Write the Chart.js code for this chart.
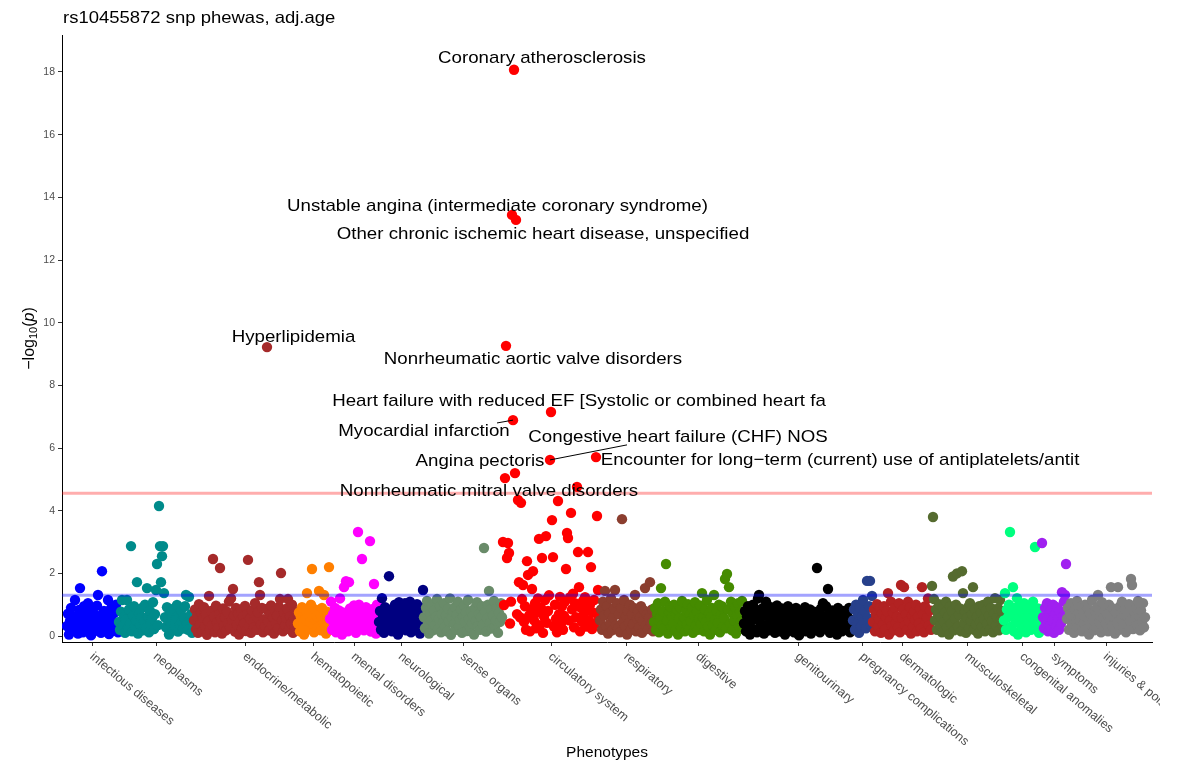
<!DOCTYPE html>
<html><head><meta charset="utf-8">
<script src="https://cdn.jsdelivr.net/npm/chart.js@4.4.0/dist/chart.umd.min.js"></script>
<style>html,body{margin:0;padding:0;background:#fff;}#wrap{width:1178px;height:765px;position:relative;}</style>
</head><body><div id="wrap"><canvas id="c"></canvas></div>
<script>
const chartTitle = "rs10455872 snp phewas, adj.age";
const xAxisTitle = "Phenotypes";
const categories = ["infectious diseases","neoplasms","endocrine/metabolic","hematopoietic","mental disorders","neurological","sense organs","circulatory system","respiratory","digestive","genitourinary","pregnancy complications","dermatologic","musculoskeletal","congenital anomalies","symptoms","injuries & poisonings"];
const categoryColors = ["#0000FF","#008B8B","#A52A2A","#FF7F00","#FF00FF","#000080","#698B69","#FF0000","#8B3E2F","#458B00","#000000","#27408B","#B22222","#556B2F","#00FF7F","#A020F0","#7F7F7F"];

// -log10(p) per phenotype, in phecode order within each category
const infectious = [0.32,0.71,0.05,0.48,0.9,0.18,0.62,0.4,1.15,0.27,
0.55,0.08,0.83,1.53,0.36,0.66,0.12,0.95,0.44,0.22,
0.75,1.05,0.3,0.58,0.02,0.86,0.47,0.15,0.69,0.38,
0.97,1.31,0.25,0.6,0.1,2.07,0.52,0.8,0.2,0.42,
0.67,1.15,0.06,0.35,0.88,0.5,0.17,0.73,0.28,1.0,
0.41,0.12];
const neoplasms = [0.45,0.2,0.78,1.15,0.33,0.6,0.1,0.52,1.15,0.27,
0.85,0.4,2.87,0.15,0.66,0.95,0.3,0.5,1.72,0.08,
0.72,0.38,0.58,0.9,0.18,0.46,1.0,0.25,1.53,0.63,
0.12,0.8,0.42,0.55,1.08,0.22,0.7,1.47,2.3,0.35,
4.15,2.87,1.72,2.55,2.87,1.37,0.6,0.28,0.92,0.5,
0.05,0.75,0.4,0.62,0.18,0.88,0.3,0.55,0.99,0.14,
0.68,0.36,0.82,0.48,0.24,0.6,0.95,1.31,0.4,0.2,
1.25,0.52,0.7,0.1,0.45];
const endocrine = [0.5,0.85,0.22,0.64,0.1,1.02,0.38,0.75,0.15,0.58,
0.92,0.3,0.68,0.04,0.47,1.28,0.2,0.8,0.35,2.46,
0.62,0.12,0.97,0.44,0.26,0.7,2.17,0.55,0.08,0.88,
0.33,0.6,0.18,0.78,0.42,1.1,0.27,1.2,0.52,1.5,
0.66,0.14,0.9,0.36,0.72,0.05,0.48,0.84,0.24,0.62,
0.4,0.96,0.16,0.7,2.43,0.32,0.56,0.1,0.82,0.45,
0.28,1.05,0.64,0.2,0.76,1.72,1.31,0.38,0.9,0.12,
0.54,0.3,0.86,9.22,0.46,0.18,0.7,0.98,0.35,0.6,
0.08,0.8,0.42,0.66,0.25,0.93,1.18,2.01,0.5,0.15,
0.74,0.34,0.58,0.88,1.18,0.22,0.62,0.4,1.0,0.1,
0.55,0.3,0.78,0.45];
const hematopoietic = [0.4,0.75,0.15,0.6,0.92,0.3,0.05,0.55,0.8,1.37,
0.22,0.68,0.45,1.0,2.14,0.35,0.12,0.85,0.5,0.62,
0.28,1.44,0.7,0.18,0.9,0.42,1.31,0.58,0.08,0.78,
0.36,2.2];
const mental = [0.55,1.1,0.2,0.7,0.38,0.9,0.12,0.62,0.3,0.82,
1.2,0.45,0.05,0.75,1.56,0.28,1.75,0.6,0.15,1.72,
0.88,0.4,0.66,0.22,0.98,0.5,0.1,0.72,3.32,1.0,
0.34,0.58,2.46,0.8,0.18,0.64,0.92,0.26,0.48,0.7,
3.03,0.14,0.86,0.4,1.66,0.6,0.08,1.0,0.32];
const neurological = [0.45,0.8,0.2,1.21,0.6,0.1,0.92,0.35,0.7,0.25,
1.91,0.5,0.85,0.15,0.62,0.4,1.0,0.3,0.75,0.05,
1.08,0.55,0.22,0.88,0.42,0.68,1.05,0.18,0.58,0.36,
0.8,1.1,0.12,0.5,0.95,0.28,0.72,0.4,1.02,0.2,
0.64,0.08,0.9,0.45,1.47];
const senseOrgans = [0.6,0.25,0.9,1.12,0.4,0.08,0.72,0.5,1.0,0.18,
0.82,0.35,0.62,1.18,0.22,0.55,0.95,0.12,0.7,0.42,
1.05,0.3,0.66,0.15,0.88,0.48,1.2,0.04,0.58,0.78,
0.38,0.92,0.2,0.68,1.1,0.3,0.52,0.85,0.1,0.62,
0.98,0.45,0.75,0.16,1.15,0.55,0.28,0.8,0.4,0.65,
0.05,0.9,0.5,1.08,0.32,0.7,0.2,0.6,0.95,0.36,
2.81,0.78,0.14,0.56,1.0,1.44,0.42,0.86,0.24,0.66,
1.12,0.3,0.5,0.9,0.1,0.74,0.45,1.05,0.6];
const circulatory = [3.0,0.99,5.04,9.26,2.49,2.97,2.65,0.4,1.1,13.44,
6.89,18.07,5.20,13.28,0.7,4.34,1.72,0.6,4.25,1.18,
1.63,0.45,0.95,0.2,2.39,1.95,0.65,0.15,0.85,1.50,
2.07,0.5,1.05,0.25,0.75,1.2,3.10,0.35,0.9,2.49,
0.1,0.62,1.15,3.19,0.42,0.8,1.3,5.62,7.15,3.70,
2.52,0.3,1.0,0.55,0.12,4.31,0.7,1.25,0.4,0.95,
0.2,0.65,1.1,2.14,3.29,3.13,0.5,1.24,3.93,0.85,
1.35,0.28,1.05,0.6,4.76,2.68,1.56,0.15,0.9,0.45,
1.12,0.7,1.24,0.3,0.82,2.68,0.5,1.0,2.2,0.22,
0.75,1.15,0.4,5.71,3.83,1.47,0.6];
const respiratory = [0.5,0.85,0.2,1.1,0.65,1.44,0.3,0.95,0.08,0.72,
0.4,1.2,0.18,0.6,0.88,1.47,0.35,1.05,0.25,0.7,
0.12,0.9,3.73,0.45,1.15,0.3,0.62,0.05,0.8,0.42,
1.0,0.2,0.68,0.38,0.9,1.31,0.15,0.55,0.78,0.28,
0.6,0.95,0.1,0.48,0.82,1.53,0.35,0.7,0.22,0.58,
1.72,0.4,0.85,0.15];
const digestive = [0.45,0.9,0.2,0.7,1.05,0.12,0.58,1.53,0.35,0.8,
0.25,1.1,2.3,0.5,0.08,0.75,0.95,0.3,0.62,0.4,
1.0,0.18,0.68,0.85,0.05,0.55,0.92,0.28,1.12,0.42,
0.6,0.15,0.8,0.38,1.02,0.22,0.7,0.48,0.9,0.1,
0.65,1.08,0.32,0.78,0.2,0.55,0.98,0.4,1.37,0.6,
0.15,0.85,0.45,1.15,0.3,0.72,0.05,0.62,0.9,0.35,
1.31,0.52,0.2,0.8,0.42,1.0,0.12,0.68,0.95,0.3,
0.58,1.82,0.25,1.98,0.85,1.56,0.4,1.1,0.18,0.7,
0.5,0.92,0.08,0.65,1.05,0.3,0.78,0.45,1.12,0.22];
const genitourinary = [0.4,0.8,0.15,0.62,0.95,0.3,0.05,0.7,0.5,1.0,
0.22,0.58,0.85,0.12,1.2,1.31,0.45,0.72,0.3,0.9,
0.08,0.65,1.1,0.35,0.78,0.18,0.55,0.92,0.25,0.6,
0.82,0.1,0.48,0.98,0.32,0.7,0.15,0.52,0.88,0.4,
0.62,0.05,0.75,0.28,0.95,0.45,0.18,0.68,0.35,0.85,
0.12,0.58,0.9,0.3,0.72,0.02,0.48,0.8,0.22,0.65,
0.4,0.92,0.15,0.7,0.32,0.55,0.85,0.08,0.6,0.42,
0.78,0.2,0.5,2.17,0.3,0.68,0.12,0.88,0.45,1.05,
0.25,0.62,0.95,0.35,1.5,0.7,0.1,0.55,0.82,0.2,
0.6,0.38,0.75,0.05,0.9,0.48,0.28,0.65,0.15,0.8,
0.42,0.58,0.22,0.7,0.35,0.9,0.12,0.52,0.3];
const pregnancy = [0.5,0.85,0.2,1.0,0.4,0.7,0.1,0.9,0.3,0.62,
1.15,0.45,0.8,0.25,1.76,0.58,0.95,1.76,0.35,1.28];
const dermatologic = [0.45,0.85,0.15,0.68,1.02,0.3,0.55,0.9,0.1,0.72,
0.38,0.95,0.22,0.6,0.8,1.37,0.05,0.5,1.1,0.32,
0.75,0.18,0.9,0.42,0.62,0.28,1.05,0.12,1.63,0.58,
0.85,1.56,0.35,0.7,0.2,1.1,0.48,0.92,0.08,0.65,
0.3,0.78,0.52,1.0,0.15,0.62,0.4,0.88,0.25,1.56,
0.7,0.12,0.95,0.45,0.6,1.2,0.35,0.82,0.2];
const musculoskeletal = [1.6,3.8,1.18,0.5,0.85,0.2,0.7,1.02,0.35,0.6,
0.12,0.9,0.45,0.75,1.1,0.28,0.62,0.05,0.95,0.4,
0.8,1.9,0.18,0.55,1.0,2.0,0.3,0.68,0.88,0.15,
2.07,1.37,0.42,0.78,0.1,0.58,0.92,0.25,1.05,0.5,
0.7,1.56,0.2,0.85,0.38,0.62,0.08,0.95,0.45,0.75,
0.3,0.99,0.55,0.15,0.82,0.4,1.1,0.65,0.22,0.9,
0.48,0.12,0.72,1.21,0.35,0.6,0.88,0.18,1.15,0.52,
0.8,0.3];
const congenital = [0.5,1.37,0.2,0.85,0.6,1.0,3.32,0.3,0.72,1.56,
0.15,0.9,0.45,1.21,0.05,0.65,0.95,0.35,0.78,0.25,
1.05,0.55,0.12,0.82,0.4,0.68,0.92,0.2,0.6,1.1,
0.3,2.84,0.75,0.48,0.88,0.1,0.62,0.4];
const symptoms = [2.97,0.6,0.25,0.9,0.45,1.05,0.15,0.75,0.35,0.85,
0.5,1.0,0.1,0.68,0.3,0.92,0.55,0.2,0.8,0.4,
1.4,0.62,1.1,1.31,2.3];
const injuries = [0.55,0.9,0.2,0.7,1.05,0.35,0.62,0.1,0.85,0.45,
1.12,0.28,0.75,0.5,0.95,0.15,0.68,0.4,1.0,0.22,
0.6,0.88,0.05,0.72,0.38,1.15,0.52,0.18,0.8,0.3,
0.92,1.31,0.45,0.65,0.12,1.08,0.58,0.25,0.82,0.4,
0.7,0.15,1.0,0.5,1.56,0.32,0.88,0.6,0.08,0.75,
0.42,1.56,0.2,0.95,0.55,1.1,0.3,0.68,0.85,0.12,
0.62,0.38,1.02,0.48,1.82,1.63,0.22,0.78,0.55,0.9,
0.35,1.12,0.65,0.18,0.82,0.45,1.05,0.28,0.6];
const categoryValues = [infectious,neoplasms,endocrine,hematopoietic,mental,neurological,senseOrgans,circulatory,respiratory,digestive,genitourinary,pregnancy,dermatologic,musculoskeletal,congenital,symptoms,injuries];

const yTickValues = [0,2,4,6,8,10,12,14,16,18];
const bonferroniLine = 4.56;
const nominalLine = 1.3;

// labelled phenotypes (text placed by repel, in data units)
const labelTexts = ["Coronary atherosclerosis","Unstable angina (intermediate coronary syndrome)","Other chronic ischemic heart disease, unspecified","Hyperlipidemia","Nonrheumatic aortic valve disorders","Heart failure with reduced EF [Systolic or combined heart fa","Myocardial infarction","Congestive heart failure (CHF) NOS","Angina pectoris","Encounter for long\u2212term (current) use of antiplatelets/antit","Nonrheumatic mitral valve disorders"];
const labelX = [475,430.5,476,226.5,466,512,357,611,413,773,422];
const labelY = [18.45,13.72,12.83,9.54,8.84,7.50,6.54,6.35,5.59,5.62,4.63];
// leader segments: start (data units) -> phenotype point (category, index)
const leaderStartX = [430,560];
const leaderStartY = [6.80,6.10];
const leaderCategory = [7,7];
const leaderIndex = [10,47];

const FONT = '"Liberation Sans", Arial, Helvetica, sans-serif';
const centers = [];
let offset = 0;
const datasets = categoryValues.map((vals, ci) => {
  const data = vals.map((v, i) => ({x: offset + i, y: v}));
  centers.push(offset + (vals.length - 1) / 2);
  offset += vals.length;
  return {
    label: categories[ci], data,
    pointRadius: 5.2, pointHoverRadius: 5.2, pointBorderWidth: 0,
    pointBackgroundColor: categoryColors[ci], backgroundColor: categoryColors[ci],
    showLine: false, order: categoryValues.length - ci
  };
});
const xMin = -5, xMax = offset + 6;

function stretchText(ctx, text, x, y, sx) {
  ctx.save(); ctx.translate(x, y); ctx.scale(sx, 1); ctx.fillText(text, 0, 0); ctx.restore();
}

const overlay = {
  id: 'overlay',
  afterDatasetsDraw(chart) {
    const ctx = chart.ctx, xs = chart.scales.x, ys = chart.scales.y, ca = chart.chartArea;
    ctx.save();
    ctx.lineWidth = 3;
    ctx.strokeStyle = 'rgba(255,0,0,0.32)';
    let py = ys.getPixelForValue(bonferroniLine);
    ctx.beginPath(); ctx.moveTo(ca.left, py); ctx.lineTo(ca.right, py); ctx.stroke();
    ctx.strokeStyle = 'rgba(0,0,255,0.36)';
    py = ys.getPixelForValue(nominalLine);
    ctx.beginPath(); ctx.moveTo(ca.left, py); ctx.lineTo(ca.right, py); ctx.stroke();
    // leaders
    ctx.strokeStyle = '#000'; ctx.lineWidth = 1;
    leaderStartX.forEach((lx, i) => {
      const el = chart.getDatasetMeta(leaderCategory[i]).data[leaderIndex[i]];
      ctx.beginPath();
      ctx.moveTo(xs.getPixelForValue(lx), ys.getPixelForValue(leaderStartY[i]));
      ctx.lineTo(el.x, el.y); ctx.stroke();
    });
    // labels
    ctx.fillStyle = '#000'; ctx.font = '17px ' + FONT;
    ctx.textAlign = 'center'; ctx.textBaseline = 'middle';
    labelTexts.forEach((t, i) => {
      stretchText(ctx, t, xs.getPixelForValue(labelX[i]), ys.getPixelForValue(labelY[i]), 1.1);
    });
    ctx.restore();
  },
  afterDraw(chart) {
    const ctx = chart.ctx, xs = chart.scales.x, ca = chart.chartArea;
    ctx.save();
    // category labels
    ctx.beginPath(); ctx.rect(0, 0, 1160, chart.height); ctx.clip();
    ctx.fillStyle = '#4D4D4D'; ctx.font = '12.5px ' + FONT;
    ctx.textAlign = 'left'; ctx.textBaseline = 'middle';
    centers.forEach((c, i) => {
      const px = xs.getPixelForValue(c);
      ctx.save(); ctx.translate(px - 1, ca.bottom + 13); ctx.rotate(40 * Math.PI / 180);
      ctx.fillText(categories[i], 0, 0); ctx.restore();
    });
    ctx.restore();
    ctx.save();
    // title
    ctx.fillStyle = '#000'; ctx.font = '16.5px ' + FONT; ctx.textAlign = 'left'; ctx.textBaseline = 'middle';
    stretchText(ctx, chartTitle, ca.left + 1, 18, 1.12);
    // x title
    ctx.font = '15.5px ' + FONT; ctx.textAlign = 'center';
    ctx.fillText(xAxisTitle, (ca.left + ca.right) / 2, 753);
    // y title: -log10(p)
    ctx.translate(30, (ca.top + ca.bottom) / 2); ctx.rotate(-Math.PI / 2);
    const parts = [['\u2212log', '16px ' + FONT, 0], ['10', '11px ' + FONT, 4], ['(', '16px ' + FONT, 0], ['p', 'italic 16px ' + FONT, 0], [')', '16px ' + FONT, 0]];
    let total = 0;
    parts.forEach(p => { ctx.font = p[1]; total += ctx.measureText(p[0]).width; });
    let x = -total / 2;
    ctx.textAlign = 'left'; ctx.textBaseline = 'middle';
    parts.forEach(p => { ctx.font = p[1]; ctx.fillText(p[0], x, p[2]); x += ctx.measureText(p[0]).width; });
    ctx.restore();
  }
};

new Chart(document.getElementById('c'), {
  type: 'scatter',
  data: {datasets},
  options: {
    responsive: true, maintainAspectRatio: false, animation: false, events: [],
    layout: {padding: {top: 35, right: 26, left: 0, bottom: 0}, autoPadding: false},
    plugins: {legend: {display: false}, tooltip: {enabled: false}, title: {display: false}},
    scales: {
      x: {
        type: 'linear', min: xMin, max: xMax,
        afterBuildTicks: s => { s.ticks = centers.map(v => ({value: v})); },
        afterFit: s => { s.height = 123; },
        ticks: {display: false},
        grid: {display: true, drawOnChartArea: false, drawTicks: true, tickLength: 4, tickColor: '#333', tickWidth: 1},
        border: {display: true, color: '#000', width: 1}
      },
      y: {
        type: 'linear', min: -0.19, max: 19.18,
        afterBuildTicks: s => { s.ticks = yTickValues.map(v => ({value: v})); },
        afterFit: s => { s.width = 62; },
        ticks: {color: '#4D4D4D', font: {size: 10.5, family: FONT}, padding: 3, callback: v => String(v)},
        grid: {display: true, drawOnChartArea: false, drawTicks: true, tickLength: 4, tickColor: '#333', tickWidth: 1},
        border: {display: true, color: '#000', width: 1}
      }
    }
  },
  plugins: [overlay]
});
</script></body></html>
